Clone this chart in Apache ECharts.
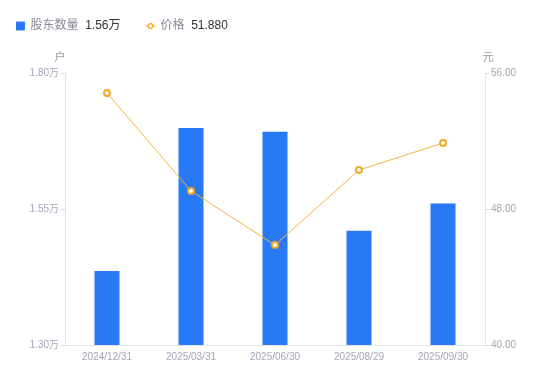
<!DOCTYPE html>
<html>
<head>
<meta charset="utf-8">
<script src="https://cdn.jsdelivr.net/npm/echarts@6/dist/echarts.min.js"></script>
<style>
  html, body { margin: 0; padding: 0; background: #fff; }
  #main { width: 550px; height: 381px; }
</style>
</head>
<body>
<div id="main"></div>
<script>
var dates = ['2024/12/31', '2025/03/31', '2025/06/30', '2025/08/29', '2025/09/30'];
var holders = [14360, 16990, 16920, 15100, 15600];
var prices = [54.82, 49.06, 45.88, 50.29, 51.88];

var legendValues = {
  '股东数量': (holders[holders.length - 1] / 10000).toFixed(2) + '万',
  '价格': prices[prices.length - 1].toFixed(3)
};

// small line-with-ring icon for the price legend
var ringIcon = 'path://M0,2.6h2.2v0.8h-2.2z M7.8,2.6h2.2v0.8h-2.2z ' +
  'M8,3A3,3 0 1 0 2,3A3,3 0 1 0 8,3z ' +
  'M6.7,3A1.7,1.7 0 1 1 3.3,3A1.7,1.7 0 1 1 6.7,3z';

var myChart = echarts.init(document.getElementById('main'));
myChart.setOption({
  textStyle: { fontFamily: 'Liberation Sans, Noto Sans CJK SC, sans-serif' },
  legend: {
    left: 11,
    top: 15,
    itemWidth: 10,
    itemHeight: 9,
    itemGap: 25,
    formatter: function (name) {
      return '{a|' + name + '}  {b|' + legendValues[name] + '}';
    },
    textStyle: {
      rich: {
        a: { color: '#858a99', fontSize: 12 },
        b: { color: '#333', fontSize: 12 }
      }
    },
    data: [
      { name: '股东数量', icon: 'path://M1,0h8a1,1 0 0 1 1,1v8a1,1 0 0 1 -1,1h-8a1,1 0 0 1 -1,-1v-8a1,1 0 0 1 1,-1z' },
      { name: '价格', icon: ringIcon, itemStyle: { color: '#f5a623', borderWidth: 0 } }
    ]
  },
  grid: { left: 65, right: 65, top: 73, bottom: 36 },
  xAxis: {
    type: 'category',
    data: dates,
    axisLine: { lineStyle: { color: '#e3e5ea' } },
    axisTick: { show: false },
    axisLabel: { color: '#a3a6b8', fontSize: 10, margin: 7 }
  },
  yAxis: [
    {
      type: 'value',
      name: '户',
      nameGap: 10,
      nameTextStyle: { color: '#999', fontSize: 11, padding: [0, 10, 0, 0] },
      min: 13000,
      max: 18000,
      interval: 2500,
      axisLine: { show: true, lineStyle: { color: '#e3e5ea' } },
      axisTick: { show: true, length: 4, lineStyle: { color: '#d8dae0' } },
      splitLine: { show: false },
      axisLabel: {
        color: '#a3a6b8', fontSize: 10, margin: 6,
        formatter: function (v) { return (v / 10000).toFixed(2) + '万'; }
      }
    },
    {
      type: 'value',
      name: '元',
      nameGap: 10,
      nameTextStyle: { color: '#999', fontSize: 11, padding: [0, 0, 0, 6] },
      min: 40,
      max: 56,
      interval: 8,
      axisLine: { show: true, lineStyle: { color: '#e3e5ea' } },
      axisTick: { show: true, length: 4, lineStyle: { color: '#d8dae0' } },
      splitLine: { show: false },
      axisLabel: {
        color: '#a3a6b8', fontSize: 10, margin: 6,
        formatter: function (v) { return v.toFixed(2); }
      }
    }
  ],
  series: [
    {
      name: '股东数量',
      type: 'bar',
      data: holders,
      barWidth: 25,
      itemStyle: { color: '#2779f5' }
    },
    {
      name: '价格',
      type: 'line',
      yAxisIndex: 1,
      data: prices,
      symbol: 'emptyCircle',
      symbolSize: 6,
      lineStyle: { color: '#f7b13a', width: 1 },
      itemStyle: { color: '#f5a623', borderWidth: 1.5 }
    }
  ]
});
</script>
</body>
</html>
